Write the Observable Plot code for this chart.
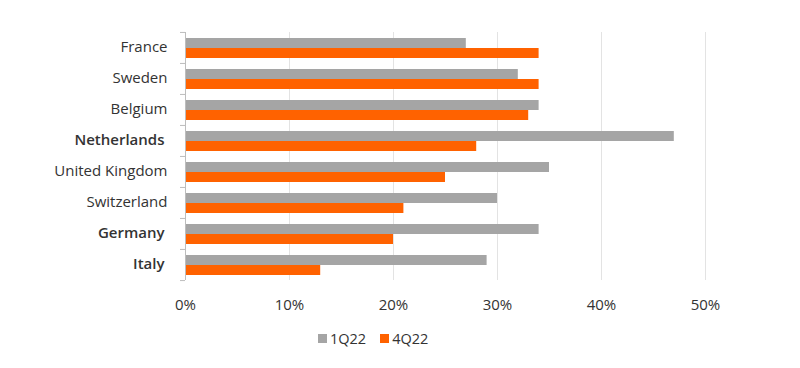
<!DOCTYPE html>
<html>
<head>
<meta charset="utf-8">
<script src="https://cdn.jsdelivr.net/npm/d3@7"></script>
<script src="https://cdn.jsdelivr.net/npm/@observablehq/plot@0.6"></script>
<style>
  html, body { margin: 0; padding: 0; background: #fff; }
  body { width: 800px; height: 368px; overflow: hidden; font-family: "Open Sans", sans-serif; }
  #legend { display: flex; align-items: center; margin-left: 318px; margin-top: 9px; font-size: 14.5px; color: #333; gap: 0; }
  #legend .sw { display: inline-block; width: 9px; height: 9px; margin-right: 3px; }
  #legend .item { display: flex; align-items: center; margin-right: 14px; }
</style>
</head>
<body>
<div id="chart"></div>
<div id="legend"></div>
<script>
const countries = ["France", "Sweden", "Belgium", "Netherlands", "United Kingdom", "Switzerland", "Germany", "Italy"];
const boldCountries = ["Netherlands", "Germany", "Italy"];
const series = ["1Q22", "4Q22"];
const values1Q22 = [27, 32, 34, 47, 35, 30, 34, 29];
const values4Q22 = [34, 34, 33, 28, 25, 21, 20, 13];
const xTicks = [0, 10, 20, 30, 40, 50];
const colors = ["#a5a5a5", "#ff6200"];

const rows = countries.flatMap((c, i) => [
  {country: c, series: series[0], value: values1Q22[i]},
  {country: c, series: series[1], value: values4Q22[i]}
]);

const width = 800, height = 320, marginTop = 31, marginBottom = 40, marginLeft = 185, marginRight = 95;
const step = (height - marginTop - marginBottom) / countries.length;

const chart = Plot.plot({
  width, height, marginTop, marginBottom, marginLeft, marginRight,
  style: {fontFamily: "Open Sans, sans-serif", fontSize: "15px", color: "#333", background: "#fff"},
  x: {domain: [0, 50], ticks: xTicks, axis: null, label: null},
  y: {domain: series, paddingInner: 0, paddingOuter: 0.42, axis: null, label: null},
  fy: {domain: countries, padding: 0, axis: null, label: null},
  color: {domain: series, range: colors},
  marks: [
    Plot.ruleX(xTicks.slice(1), {stroke: "#e3e3e3", strokeWidth: 1}),
    Plot.barX(rows, {fy: "country", y: "series", x: "value", fill: "series"}),
    Plot.ruleX([0], {stroke: "#bdbdbd", strokeWidth: 1}),
    Plot.axisFy({anchor: "left", label: null, tickSize: 5, tickFormat: () => "", stroke: "#bdbdbd", dy: -step / 2}),
    Plot.axisFy({anchor: "left", label: null, ticks: [countries[countries.length - 1]], tickSize: 5, tickFormat: () => "", stroke: "#bdbdbd", dy: step / 2}),
    Plot.text(countries.filter(c => !boldCountries.includes(c)), {fy: d => d, text: d => d, frameAnchor: "left", textAnchor: "end", dx: -18, dy: -1, fill: "#333", fontSize: 15}),
    Plot.text(boldCountries, {fy: d => d, text: d => d, frameAnchor: "left", textAnchor: "end", dx: -21, dy: -1, fill: "#333", fontSize: 15, fontWeight: 600}),
    Plot.axisX({anchor: "bottom", label: null, ticks: xTicks, tickSize: 0, tickPadding: 19, tickFormat: d => d + "%", fill: "#333", fontSize: 15})
  ]
});
document.getElementById("chart").appendChild(chart);

const legend = document.getElementById("legend");
series.forEach((s, i) => {
  const item = document.createElement("span");
  item.className = "item";
  const sw = document.createElement("span");
  sw.className = "sw";
  sw.style.background = colors[i];
  item.appendChild(sw);
  item.appendChild(document.createTextNode(s));
  legend.appendChild(item);
});
</script>
</body>
</html>
